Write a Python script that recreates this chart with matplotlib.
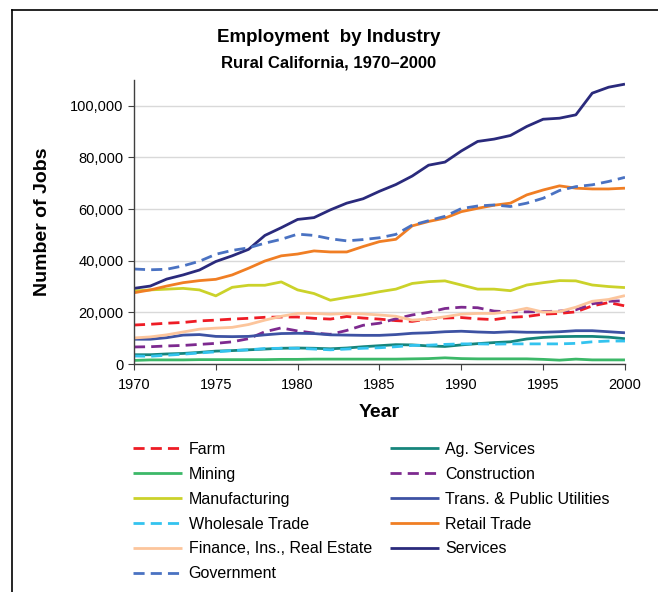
import matplotlib
matplotlib.use("Agg")
import matplotlib.pyplot as plt
from matplotlib.ticker import FuncFormatter, MultipleLocator
from matplotlib.lines import Line2D

plt.rcParams['font.family'] = ['Liberation Sans', 'DejaVu Sans']

years = list(range(1970, 2001))

farm = [15.1, 15.4, 15.8, 16.1, 16.7, 17.0, 17.4, 17.7, 18.1, 18.2, 18.2, 17.7, 17.4, 18.4, 17.8,
        17.4, 16.8, 16.5, 17.5, 17.8, 18.0, 17.5, 17.2, 18.1, 18.4, 19.3, 19.6, 20.2, 22.5, 23.8, 22.5]
ag_services = [3.6, 3.6, 3.9, 4.1, 4.5, 5.0, 5.2, 5.5, 5.8, 6.1, 6.2, 6.1, 5.9, 6.2, 6.7,
               7.1, 7.5, 7.4, 7.0, 6.8, 7.4, 7.9, 8.3, 8.6, 9.7, 10.3, 10.6, 10.7, 10.7, 10.4, 9.8]
mining = [1.4, 1.6, 1.6, 1.6, 1.7, 1.7, 1.7, 1.7, 1.7, 1.8, 1.8, 1.9, 1.9, 1.9, 1.9,
          1.9, 1.9, 2.0, 2.1, 2.4, 2.1, 2.0, 2.0, 2.0, 2.0, 1.8, 1.5, 1.9, 1.6, 1.6, 1.6]
construction = [6.6, 6.7, 7.0, 7.2, 7.6, 8.0, 8.6, 9.8, 12.5, 14.0, 12.8, 12.0, 11.5, 13.0, 15.0,
                15.8, 17.5, 19.0, 20.0, 21.5, 22.0, 21.8, 20.5, 20.2, 20.2, 20.3, 20.5, 21.0, 23.3, 24.3, 24.5]
manufacturing = [28.3, 28.7, 29.0, 29.3, 28.7, 26.4, 29.7, 30.5, 30.5, 31.8, 28.7, 27.3, 24.7, 25.8, 26.8,
                 28.0, 29.0, 31.2, 31.9, 32.2, 30.6, 29.0, 29.0, 28.4, 30.6, 31.5, 32.3, 32.2, 30.6, 30.0, 29.6]
trans_utilities = [9.6, 9.6, 10.2, 11.2, 11.4, 10.7, 10.6, 10.7, 11.3, 11.8, 11.9, 11.8, 11.3, 11.2, 11.1,
                   11.1, 11.4, 11.9, 12.1, 12.5, 12.7, 12.4, 12.2, 12.5, 12.3, 12.3, 12.5, 12.9, 12.9, 12.5, 12.1]
wholesale = [3.1, 3.0, 3.4, 3.8, 4.3, 4.7, 5.2, 5.5, 6.0, 6.1, 6.1, 5.8, 5.5, 5.8, 6.1,
             6.3, 6.7, 7.2, 7.3, 7.6, 7.8, 7.8, 7.7, 7.8, 7.8, 7.8, 7.8, 8.0, 8.6, 8.9, 8.9]
retail = [27.6, 28.7, 30.2, 31.5, 32.3, 32.8, 34.5, 37.1, 39.9, 41.9, 42.6, 43.8, 43.4, 43.4, 45.5,
          47.4, 48.3, 53.5, 55.2, 56.5, 59.0, 60.3, 61.5, 62.3, 65.5, 67.4, 69.0, 68.1, 67.8, 67.8, 68.1]
finance = [10.1, 10.5, 11.3, 12.4, 13.5, 13.9, 14.2, 15.3, 17.0, 18.5, 19.6, 19.6, 19.3, 19.6, 19.4,
           19.0, 18.5, 17.0, 17.4, 18.3, 19.3, 19.6, 19.6, 20.3, 21.6, 20.1, 20.3, 22.0, 24.3, 25.0, 26.5]
services = [29.3, 30.2, 32.9, 34.5, 36.4, 39.7, 41.9, 44.4, 49.8, 52.8, 56.0, 56.7, 59.7, 62.3, 64.0,
            66.9, 69.5, 72.8, 77.0, 78.2, 82.5, 86.2, 87.1, 88.5, 92.0, 94.8, 95.2, 96.5, 104.9, 107.2, 108.4]
government = [36.8, 36.5, 36.7, 38.0, 39.8, 42.5, 44.0, 45.0, 46.8, 48.3, 50.3, 49.8, 48.5, 47.7, 48.2,
              48.9, 50.2, 53.8, 55.5, 57.2, 60.2, 61.2, 61.6, 61.0, 62.3, 64.2, 67.2, 68.7, 69.4, 70.7, 72.3]

# (label, values in thousands, colour, dashed)
series = [
    ("Farm", farm, "#ee1c25", True),
    ("Ag. Services", ag_services, "#16857c", False),
    ("Mining", mining, "#3cb868", False),
    ("Construction", construction, "#7d2a8f", True),
    ("Manufacturing", manufacturing, "#cbd22a", False),
    ("Trans. & Public Utilities", trans_utilities, "#3d52a3", False),
    ("Wholesale Trade", wholesale, "#33c3ef", True),
    ("Retail Trade", retail, "#f07e24", False),
    ("Finance, Ins., Real Estate", finance, "#fcc59c", False),
    ("Services", services, "#2a2a7c", False),
    ("Government", government, "#4a72c2", True),
]
# legend reads row-wise in the original, matplotlib fills columns first
legend_order = ["Farm", "Mining", "Manufacturing", "Wholesale Trade", "Finance, Ins., Real Estate",
                "Government", "Ag. Services", "Construction", "Trans. & Public Utilities",
                "Retail Trade", "Services"]

fig = plt.figure(figsize=(6.58, 5.92), dpi=100)
ax = fig.add_axes([0.2036, 0.3851, 0.7462, 0.4798])

handles = {}
for name, vals, color, dashed in series:
    ls = (0, (4, 2.2)) if dashed else "-"
    line, = ax.plot(years, [v * 1000 for v in vals], color=color, lw=2.0, linestyle=ls,
                    label=name, solid_capstyle="butt", dash_capstyle="butt")
    handles[name] = line

ax.set_xlim(1970, 2000)
ax.set_ylim(0, 110000)
ax.xaxis.set_major_locator(MultipleLocator(5))
ax.yaxis.set_major_locator(MultipleLocator(20000))
ax.yaxis.set_major_formatter(FuncFormatter(lambda v, p: f"{int(v):,}"))
ax.grid(axis="y", color="#d9d9d9", lw=1.0)
ax.set_axisbelow(True)
for s in ["top", "right"]:
    ax.spines[s].set_visible(False)
for s in ["left", "bottom"]:
    ax.spines[s].set_color("#404040")
    ax.spines[s].set_linewidth(1.0)
ax.tick_params(axis="both", labelsize=10.5, color="#404040", length=4)
ax.tick_params(axis="x", pad=6)

ax.set_xlabel("Year", fontsize=14, fontweight="bold", labelpad=9)
ax.set_ylabel("Number of Jobs", fontsize=14, fontweight="bold", labelpad=14)

fig.text(0.5, 0.936, "Employment  by Industry", ha="center", va="center",
         fontsize=13.5, fontweight="bold")
fig.text(0.5, 0.893, "Rural California, 1970\u20132000", ha="center", va="center",
         fontsize=12, fontweight="bold")

fig.legend([handles[n] for n in legend_order], legend_order, ncol=2, loc="upper left",
           bbox_to_anchor=(0.18, 0.278), frameon=False, fontsize=11.5,
           handlelength=3.1, handletextpad=0.4, columnspacing=1.1, labelspacing=0.62)

# outer frame (left and top edges visible in the crop)
fig.add_artist(Line2D([12 / 658, 12 / 658], [0, 1 - 10 / 592], color="black", lw=1.2))
fig.add_artist(Line2D([12 / 658, 1], [1 - 10 / 592, 1 - 10 / 592], color="black", lw=1.2))

fig.savefig("out.png", dpi=100)
